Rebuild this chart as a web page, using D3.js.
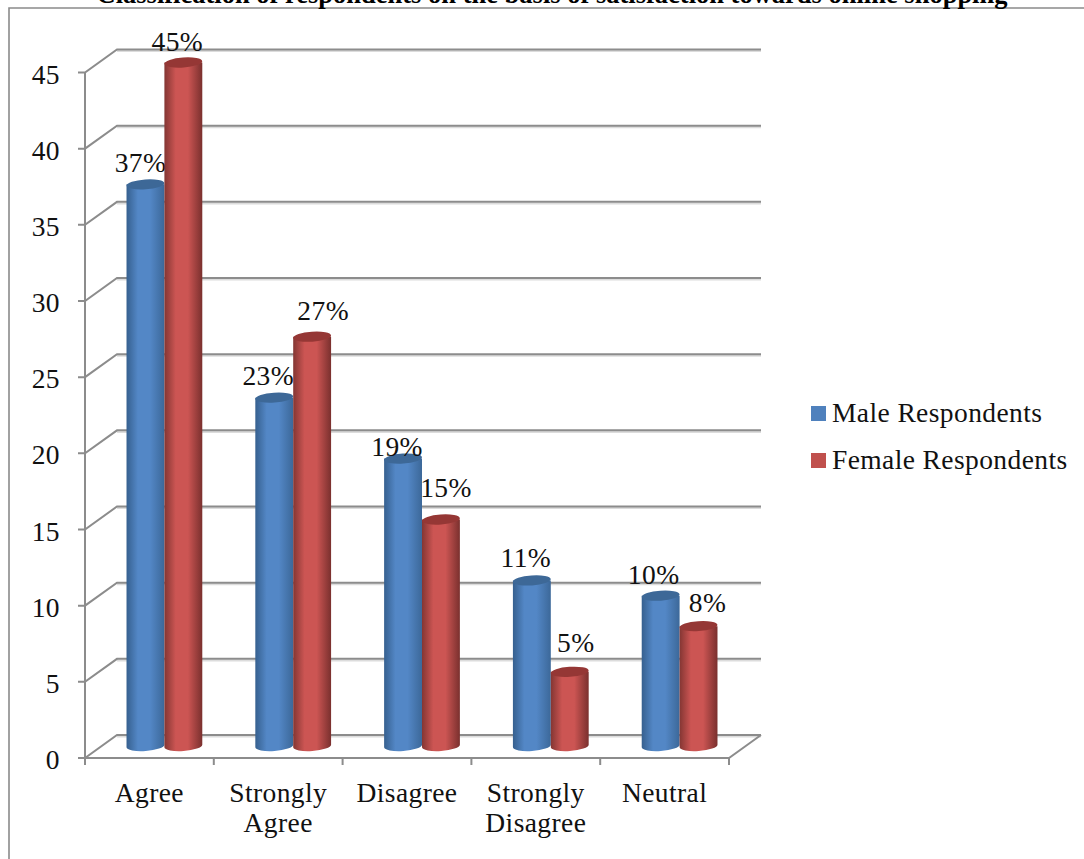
<!DOCTYPE html>
<html><head><meta charset="utf-8">
<script src="https://cdn.jsdelivr.net/npm/d3@7/dist/d3.min.js"></script>
<style>
html,body{margin:0;padding:0;background:#fff;overflow:hidden}
svg{display:block}
text{font-family:"Liberation Serif",serif;fill:#111}
.lab{letter-spacing:0.4px}
</style></head><body><svg id="c" width="1084" height="859"></svg>
<script>
const titleText = "Classification of respondents on the basis of satisfaction towards online shopping";
const categories = [["Agree"],["Strongly","Agree"],["Disagree"],["Strongly","Disagree"],["Neutral"]];
const seriesNames = ["Male Respondents","Female Respondents"];
const maleValues = [37,23,19,11,10];
const femaleValues = [45,27,15,5,8];
const yTicks = [0,5,10,15,20,25,30,35,40,45];
const maleNudge = [[-5,-12],[-6,-13],[-6,-3],[-6,-13],[-7,-12]];
const femaleNudge = [[-6,-12],[11,-17],[5,-23],[6,-20],[9,-14]];

const svg = d3.select("#c");
const depthX = 32, depthY = 23, fontSize = 27.5;
const keys = categories.map(c => c.join(" "));
const x = d3.scaleBand().domain(keys).range([85,729]);
const y = d3.scaleLinear().domain([0,45]).range([758,72.5]);
const inner = d3.scaleBand().domain(seriesNames).range([0,x.bandwidth()]).paddingOuter(0.7);
const colors = {[seriesNames[0]]:["#36608f","#5387c6","#3c6899","#3d6897"],
                [seriesNames[1]]:["#843633","#cc5553","#7a302e","#953735"]};

const defs = svg.append("defs");
seriesNames.forEach((s,i)=>{
  const g = defs.append("linearGradient").attr("id","g"+i);
  [[0,0],[.3,1],[.62,1],[1,2]].forEach(([o,c])=>g.append("stop").attr("offset",o).attr("stop-color",colors[s][c]));
});

const frame = d3.path(); frame.moveTo(1084,8); frame.lineTo(9,8); frame.lineTo(9,859);
svg.append("path").attr("d",frame.toString()).attr("fill","none").attr("stroke","#8a8a8a").attr("stroke-width",1.6);

svg.append("text").attr("x",552).attr("y",3).attr("text-anchor","middle")
  .style("font-size","26.5px").style("font-weight","bold").style("fill","#000").text(titleText);

const gridC = "#8c8c8c";
const shadow = svg.append("g").attr("fill","none").attr("stroke","#dcdcdc").attr("stroke-width",2);
const grid = svg.append("g").attr("fill","none").attr("stroke",gridC).attr("stroke-width",2);
yTicks.forEach(t=>{
  const p = d3.path();
  p.moveTo(78,y(t)); p.lineTo(85,y(t)); p.lineTo(85+depthX,y(t)-depthY); p.lineTo(729+depthX,y(t)-depthY);
  grid.append("path").attr("d",p.toString());
  shadow.append("line").attr("x1",85+depthX).attr("x2",729+depthX).attr("y1",y(t)-depthY+1.6).attr("y2",y(t)-depthY+1.6);
  svg.append("text").attr("class","lab").attr("x",60).attr("y",y(t)+11).attr("text-anchor","end").style("font-size",fontSize+"px").text(t);
});
grid.append("line").attr("x1",85).attr("x2",85).attr("y1",y(45)).attr("y2",y(0));
const floor = d3.path(); floor.moveTo(85,y(0)); floor.lineTo(729,y(0)); floor.lineTo(729+depthX,y(0)-depthY);
grid.append("path").attr("d",floor.toString());
[85].concat(keys.map(k=>x(k)+x.bandwidth())).forEach(v=>
  grid.append("line").attr("x1",v).attr("x2",v).attr("y1",y(0)).attr("y2",y(0)+7));

categories.forEach((c,i)=>{
  const t = svg.append("text").attr("class","lab").attr("text-anchor","middle").style("font-size",fontSize+"px");
  c.forEach((w,j)=>t.append("tspan").attr("x",x(keys[i])+x.bandwidth()/2).attr("y",802+j*30).text(w));
});

const baseY = y(0)-12, topLift = 10, barShift = 15;
[maleValues,femaleValues].forEach((vals,si)=>{
  const s = seriesNames[si], nudge = si===0?maleNudge:femaleNudge;
  vals.forEach((v,i)=>{
    const x0 = x(keys[i])+inner(s)+barShift, w = inner.bandwidth(), rx = w/2, ry = 5;
    const top = y(v)-topLift, g = svg.append("g");
    g.append("path").attr("fill",`url(#g${si})`)
      .attr("d",`M${x0},${top}L${x0},${baseY+1.3}A${rx},${ry} -4 0 0 ${x0+w},${baseY-1.3}L${x0+w},${top}Z`);
    g.append("ellipse").attr("cx",x0+rx).attr("cy",top).attr("rx",rx).attr("ry",ry)
      .attr("transform",`rotate(-4 ${x0+rx} ${top})`).attr("fill",colors[s][3]);
    g.append("text").attr("class","lab").attr("x",x0+rx+nudge[i][0]).attr("y",top+nudge[i][1]).attr("text-anchor","middle")
      .style("font-size",fontSize+"px").text(v+"%");
  });
});

const legend = d3.scalePoint().domain(seriesNames).range([406,453]);
seriesNames.forEach((s,i)=>{
  svg.append("rect").attr("x",811).attr("y",legend(s)).attr("width",15).attr("height",15).attr("fill",i?"#c0504d":"#4f81bd");
  svg.append("text").attr("class","lab").attr("x",832).attr("y",legend(s)+16).style("font-size",fontSize+"px").text(s);
});
</script></body></html>
